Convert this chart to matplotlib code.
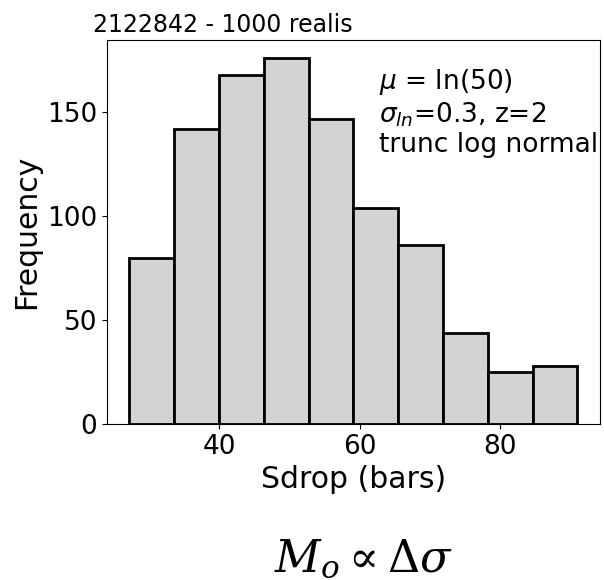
import numpy as np
import matplotlib
matplotlib.use("Agg")
import matplotlib.pyplot as plt

# histogram: bin edges and counts
bin_lo = 27.2
bin_hi = 91.0
n_bins = 10
counts = [80, 142, 168, 176, 147, 104, 86, 44, 25, 28]

title_txt = "2122842 - 1000 realis"
note_txt = "$\\mu$ = ln(50)\n$\\sigma_{ln}$=0.3, z=2\ntrunc log normal"
xlabel_txt = "Sdrop (bars)"
ylabel_txt = "Frequency"
bottom_txt = r"$M_o \propto \Delta\sigma$"


def main():
    plt.rcParams['mathtext.fontset'] = 'dejavusans'
    edges = np.linspace(bin_lo, bin_hi, n_bins + 1)
    centers = (edges[:-1] + edges[1:]) / 2

    fig = plt.figure(figsize=(6.04, 5.80), dpi=100)
    ax = fig.add_axes([0.177, 0.269, 0.816, 0.662])

    ax.hist(centers, bins=edges, weights=counts, color='lightgrey',
            edgecolor='black', linewidth=2)

    ax.set_xlabel(xlabel_txt, fontsize=21.5)
    ax.set_ylabel(ylabel_txt, fontsize=21.5)
    ax.tick_params(labelsize=19)
    ax.set_xticks([40, 60, 80])
    ax.set_yticks([0, 50, 100, 150])

    # multi-line note: baseline anchor lands on the last line
    ax.text(0.552, 0.708, note_txt, transform=ax.transAxes, fontsize=19,
            va='baseline', ha='left', linespacing=1.15)

    # title sits a bit left of the axes in the original
    fig.text(93 / 604, 1 - 31.5 / 580, title_txt, fontsize=17,
             ha='left', va='baseline')

    # big formula under the plot, partly cut off at the bottom
    fig.text(363 / 604, 8 / 580, bottom_txt, fontsize=32, ha='center',
             va='baseline', math_fontfamily='dejavuserif')

    fig.savefig('out.png', dpi=100)


if __name__ == "__main__":
    main()
